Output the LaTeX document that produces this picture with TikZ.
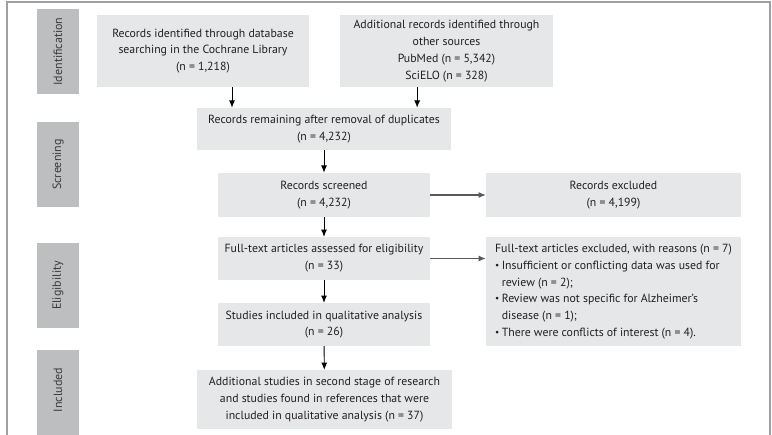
\documentclass[tikz,border=0pt]{standalone}
\usepackage{fontspec}
\setmainfont{PT Sans}
\usepackage{xcolor}
\usetikzlibrary{arrows.meta,positioning}
\definecolor{BoxFill}{HTML}{E6E7E8}
\definecolor{PhaseFill}{HTML}{BCBEC0}
\definecolor{FrameGray}{HTML}{9D9FA2}
\definecolor{TextDark}{HTML}{231F20}
\definecolor{PhaseText}{HTML}{3A3A3C}
\newcommand{\bulletitem}{\makebox[5pt][l]{\raisebox{0.15ex}{\scriptsize\textbullet}}}
\newcommand{\bulletcont}{\hspace*{5pt}}
\tikzset{
  flowbox/.style={fill=BoxFill, align=center, text=TextDark, inner sep=0pt,
    font=\fontsize{8.85pt}{12.6pt}\selectfont},
  phasebox/.style={fill=PhaseFill, minimum width=31.5pt, minimum height=64pt, inner sep=0pt},
  phaselabel/.style={rotate=90, text=PhaseText, font=\fontsize{9pt}{10pt}\selectfont},
  arr/.style={-{Latex[length=5.5pt,width=4.5pt]}, line width=0.7pt, black},
  harr/.style={-{Latex[length=5.5pt,width=4.5pt]}, line width=0.9pt, black!65}
}
\begin{document}
\begin{tikzpicture}[x=0.75pt, y=-0.75pt]
  \useasboundingbox (0,0) rectangle (772,435);
  \fill[white] (0,0) rectangle (772,435);
  % outer frame, open at the bottom
  \draw[FrameGray, line width=1.5pt] (7,445) -- (7,2) -- (770,2) -- (770,445);

  % phases
  \node[phasebox] (identph) at (58,51.5) {};
  \node[phaselabel] at (identph) {Identification};
  \node[phasebox] (screenph) at (58,164.5) {};
  \node[phaselabel] at (screenph) {Screening};
  \node[phasebox] (eligph) at (58,285.5) {};
  \node[phaselabel] at (eligph) {Eligibility};
  \node[phasebox, minimum height=70pt] (inclph) at (58,396.5) {};
  \node[phaselabel] at (58,390) {Included};

  % identification
  \node[flowbox, minimum width=159pt, minimum height=54pt] (cochrane) at (203,51)
    {Records identified through database\\searching in the Cochrane Library\\(n = 1,218)};
  \node[flowbox, minimum width=160pt, minimum height=54pt] (other) at (446.5,51)
    {Additional records identified through\\other sources\\PubMed (n = 5,342)\\SciELO (n = 328)};

  % screening
  \node[flowbox, minimum width=190.5pt, minimum height=31.5pt] (dupl) at (324,129)
    {Records remaining after removal of duplicates\\(n = 4,232)};
  \node[flowbox, minimum width=159pt, minimum height=33pt] (screened) at (324,195)
    {Records screened\\(n = 4,232)};
  \node[flowbox, minimum width=191pt, minimum height=33pt] (excluded) at (613.5,195)
    {Records excluded\\(n = 4,199)};

  % eligibility
  \node[flowbox, minimum width=159pt, minimum height=32pt] (fulltext) at (324,258.5)
    {Full-text articles assessed for eligibility\\(n = 33)};
  \node[flowbox, minimum width=191pt, minimum height=82pt, align=left] (ftexcl) at (613.5,291.5)
    {Full-text articles excluded, with reasons (n = 7)\\
     \bulletitem Insufficient or conflicting data was used for\\
     \bulletcont review (n = 2);\\
     \bulletitem Review was not specific for Alzheimer’s\\
     \bulletcont disease (n = 1);\\
     \bulletitem There were conflicts of interest (n = 4).};
  \node[flowbox, minimum width=159pt, minimum height=32pt] (studies) at (324,324.5)
    {Studies included in qualitative analysis\\(n = 26)};

  % included
  \node[flowbox, minimum width=191pt, minimum height=44pt] (addstud) at (324.5,399.5)
    {Additional studies in second stage of research\\and studies found in references that were\\included in qualitative analysis (n = 37)};

  % connectors
  \draw[arr] ([xshift=21.75pt]cochrane.south) -- ([xshift=21.75pt]cochrane.south |- dupl.north);
  \draw[arr] ([xshift=-22pt]other.south) -- ([xshift=-22pt]other.south |- dupl.north);
  \draw[arr] (dupl) -- (screened);
  \draw[arr] (screened) -- (fulltext);
  \draw[arr] (fulltext) -- (studies);
  \draw[arr] (studies) -- (addstud);
  \draw[harr] (screened) -- (excluded);
  \draw[harr] (fulltext) -- (fulltext -| ftexcl.west);
\end{tikzpicture}
\end{document}
